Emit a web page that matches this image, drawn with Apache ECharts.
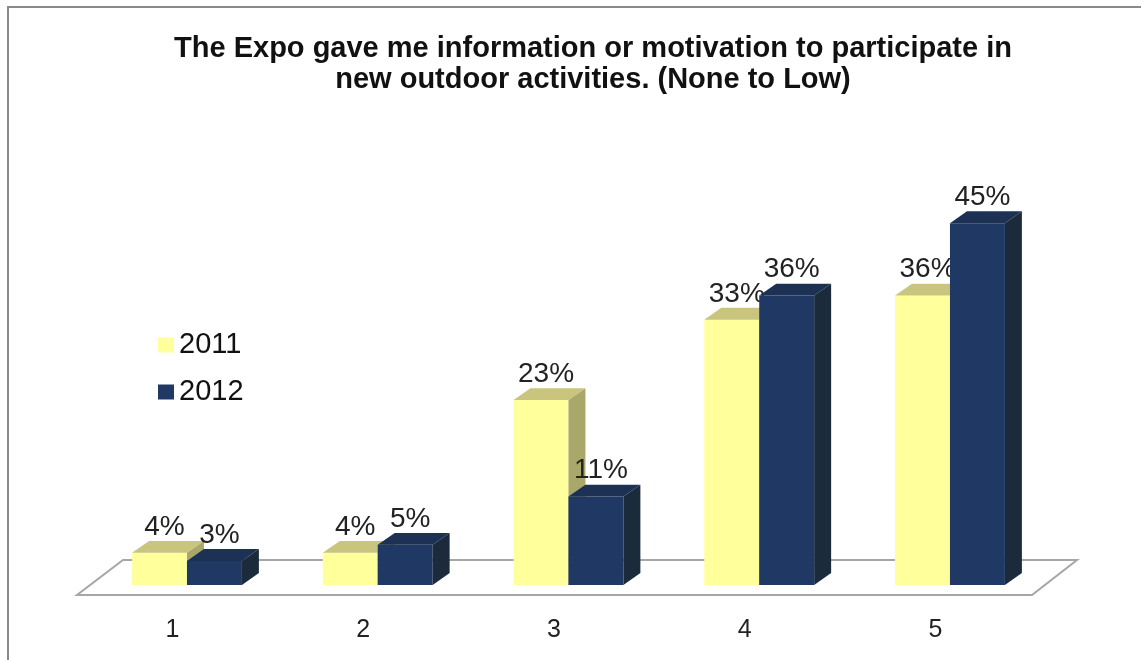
<!DOCTYPE html>
<html>
<head>
<meta charset="utf-8">
<script src="https://cdn.jsdelivr.net/npm/echarts@6/dist/echarts.min.js"></script>
<style>
  html, body { margin: 0; padding: 0; background: #fff; }
  #chart { width: 1141px; height: 660px; }
</style>
</head>
<body>
<div id="chart"></div>
<script>
// 数据
var categories = ['1', '2', '3', '4', '5'];
var values2011 = [4, 4, 23, 33, 36];
var values2012 = [3, 5, 11, 36, 45];
var seriesNames = ['2011', '2012'];

var chart = echarts.init(document.getElementById('chart'));

// 3D 柱子的颜色（正面、顶面、侧面）
var faces = [
  { front: '#ffff9c', top: '#c9c57f', side: '#aaa76b' },
  { front: '#1f3864', top: '#1c3153', side: '#1b2b3b' }
];

var FONT = '"Liberation Sans", Arial, sans-serif';

function makeRender(idx) {
  return function (params, api) {
    var band = api.size([1, 0])[0];
    var w = band * 0.288;
    var dx = band * 0.089, dy = -dx * 0.7;
    var top = api.coord([api.value(0), api.value(1)]);
    var base = api.coord([api.value(0), 0]);
    var x0 = top[0] + (idx === 0 ? -w : 0);
    var x1 = x0 + w;
    var yt = top[1], yb = base[1];
    var c = faces[idx];
    return {
      type: 'group',
      children: [
        { type: 'rect', shape: { x: x0, y: yt, width: w, height: yb - yt }, style: { fill: c.front } },
        { type: 'polygon', shape: { points: [[x0, yt], [x1, yt], [x1 + dx, yt + dy], [x0 + dx, yt + dy]] }, style: { fill: c.top } },
        { type: 'polygon', shape: { points: [[x1, yt], [x1 + dx, yt + dy], [x1 + dx, yb + dy], [x1, yb]] }, style: { fill: c.side } },
        {
          type: 'text',
          style: {
            x: x0 + w / 2 + 5, y: yt + dy - 14,
            text: api.value(1) + '%',
            fill: '#222', font: '28px ' + FONT,
            align: 'center', verticalAlign: 'middle'
          }
        }
      ]
    };
  };
}

chart.setOption({
  animation: false,
  title: {
    text: 'The Expo gave me information or motivation to participate in\nnew outdoor activities. (None to Low)',
    left: 588,
    top: 28,
    textAlign: 'center',
    textStyle: { fontFamily: FONT, fontWeight: 'bold', fontSize: 29, lineHeight: 31, color: '#111' }
  },
  legend: {
    orient: 'vertical',
    left: 153,
    top: 324,
    itemWidth: 16,
    itemHeight: 15,
    itemGap: 15,
    icon: 'rect',
    textStyle: { fontFamily: FONT, fontSize: 29, lineHeight: 32, color: '#111', padding: [0, 0, 0, 0] },
    data: seriesNames
  },
  grid: { left: 91.6, width: 953.75, top: 183, bottom: 75 },
  xAxis: {
    type: 'category',
    data: categories,
    axisLine: { show: false },
    axisTick: { show: false },
    axisLabel: { show: false }
  },
  yAxis: {
    type: 'value',
    min: 0,
    max: 50,
    show: false
  },
  graphic: [
    // 外框
    { type: 'polyline', shape: { points: [[8, 660], [8, 7], [1141, 7]] }, style: { stroke: '#8a8a8a', lineWidth: 2, fill: null } },
    // 底面
    { type: 'polygon', z: 0, shape: { points: [[77, 595], [1032, 595], [1077, 560], [123, 560]] }, style: { fill: '#fff', stroke: '#a6a6a6', lineWidth: 2 } }
  ],
  series: [
    {
      name: seriesNames[0],
      type: 'custom',
      renderItem: makeRender(0),
      itemStyle: { color: faces[0].front },
      encode: { x: 0, y: 1 },
      data: values2011.map(function (v, i) { return [i, v]; }),
      z: 2
    },
    {
      name: seriesNames[1],
      type: 'custom',
      renderItem: makeRender(1),
      itemStyle: { color: faces[1].front },
      encode: { x: 0, y: 1 },
      data: values2012.map(function (v, i) { return [i, v]; }),
      z: 3
    },
    {
      // 类别标签，放在底面前沿
      type: 'custom',
      silent: true,
      renderItem: function (params, api) {
        var p = api.coord([api.value(0), 0]);
        return {
          type: 'text',
          style: {
            x: p[0] - 14.5, y: 630,
            text: categories[api.value(0)],
            fill: '#222', font: '25px ' + FONT,
            align: 'center', verticalAlign: 'middle'
          }
        };
      },
      data: categories.map(function (c, i) { return [i, 0]; }),
      z: 3
    }
  ]
});
</script>
</body>
</html>
